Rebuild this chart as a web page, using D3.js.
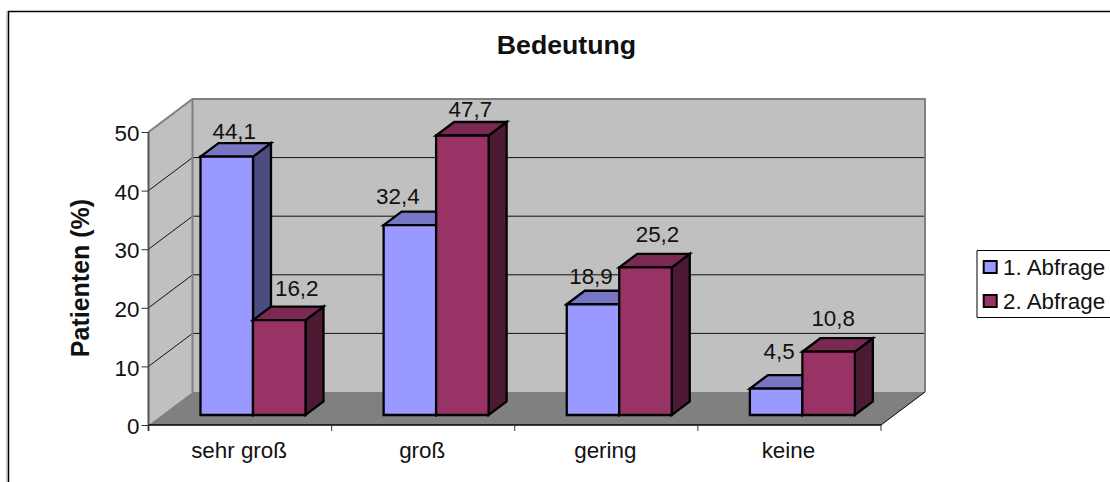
<!DOCTYPE html>
<html><head><meta charset="utf-8">
<script src="https://cdn.jsdelivr.net/npm/d3@7"></script>
<style>html,body{margin:0;padding:0;background:#fff;overflow:hidden}svg{display:block}text{font-family:"Liberation Sans",Arial,sans-serif;fill:#111}</style>
</head><body><svg id="c" width="1110" height="482"></svg>
<script>
const categories = ["sehr groß","groß","gering","keine"];
const seriesNames = ["1. Abfrage","2. Abfrage"];
const series1 = [44.1,32.4,18.9,4.5];
const series2 = [16.2,47.7,25.2,10.8];
const yTicks = [0,10,20,30,40,50];
// hand-placed label offsets of the original, relative to each bar's centre and top
const labelShift1 = [[7.5,-17.8],[-12,-21.2],[-2,-20.2],[3,-29.2]];
const labelShift2 = [[17.5,-24.2],[8,-18.7],[12,-25.2],[4.6,-26.2]];
const fmt = v => String(v).replace(".",",");
const FS = "22.4px";
const svg = d3.select("#c");
// frame
svg.append("path").attr("d","M8.5,482V11.5H1110").attr("fill","none").attr("stroke","#000").attr("stroke-width",1.5);
svg.append("path").attr("d","M7,482V11").attr("fill","none").attr("stroke","#999").attr("stroke-width",1);
const x = d3.scaleBand().domain(categories).range([148.5,881]);
const y = d3.scaleLinear().domain([0,50]).range([425,132]);
const depth = {dx:44,dy:-33}, front = {dx:13.2,dy:-10}, barD = {dx:18,dy:-13.5};
const [x0,x1] = x.range();
const line = d3.line();
// walls
const B = y(0), T = y(50);
svg.append("path").attr("d",line([[x0,T],[x0+depth.dx,T+depth.dy],[x0+depth.dx,B+depth.dy],[x0,B]])+"Z").attr("fill","#c0c0c0");
svg.append("rect").attr("x",x0+depth.dx).attr("y",T+depth.dy).attr("width",x1-x0).attr("height",B-T).attr("fill","#c0c0c0");
svg.append("path").attr("d",line([[x0,B],[x0+depth.dx,B+depth.dy],[x1+depth.dx,B+depth.dy],[x1,B]])+"Z").attr("fill","#808080");
// grid
yTicks.slice(1,-1).forEach(t=>{
  svg.append("path").attr("d",line([[x0,y(t)],[x0+depth.dx,y(t)+depth.dy],[x1+depth.dx,y(t)+depth.dy]])).attr("fill","none").attr("stroke","#111").attr("stroke-width",1);
});
// wall edges
svg.append("path").attr("d",line([[x0,T],[x0+depth.dx,T+depth.dy],[x1+depth.dx,T+depth.dy],[x1+depth.dx,B+depth.dy]])).attr("fill","none").attr("stroke","#808080").attr("stroke-width",2);
svg.append("path").attr("d",line([[x0+depth.dx,T+depth.dy],[x0+depth.dx,B+depth.dy]])).attr("fill","none").attr("stroke","#808080").attr("stroke-width",2);
svg.append("path").attr("d",line([[x1,B],[x1+depth.dx,B+depth.dy]])).attr("fill","none").attr("stroke","#000").attr("stroke-width",1);
// axes
const axY = svg.append("g").attr("transform",`translate(${x0},0)`).call(d3.axisLeft(y).tickValues(yTicks).tickSize(7).tickPadding(2).tickFormat(d3.format("d")));
axY.selectAll("text").style("font-size",FS).attr("dy","0.39em");
axY.select(".domain").attr("d",`M0,${T}V${B+6}`).attr("stroke","#555").attr("stroke-width",2);
axY.selectAll("line").attr("stroke","#333");
const axX = svg.append("g").attr("transform",`translate(0,${B})`);
axX.append("path").attr("d",`M${x0},0H${x1}`).attr("stroke","#000").attr("stroke-width",1.5);
categories.concat(["end"]).forEach((c,i)=>{
  const px = i<categories.length ? x(c) : x1;
  axX.append("line").attr("x1",px).attr("x2",px).attr("y1",0).attr("y2",6).attr("stroke","#333");
});
axX.selectAll("text.t").data(categories).join("text").attr("class","t")
  .attr("x",d=>x(d)+x.bandwidth()/2-1).attr("y",33).attr("text-anchor","middle").style("font-size",FS).text(d=>d);
// bars
const inner = d3.scaleBand().domain([0,1]).range([52,157]);
const colors = [{f:"#9999ff",t:"#7676c4",s:"#4c4c80"},{f:"#993366",t:"#7a2952",s:"#4d1a33"}];
function bar(cat,si,v){
  const c = colors[si];
  const l = x(cat)+inner(si), w = inner.bandwidth();
  const base = y(0)+front.dy, top = base-(y(0)-y(v));
  const g = svg.append("g").attr("stroke","#000").attr("stroke-width",2.3);
  const app = (pts,fill)=>g.append("path").attr("d",line(pts)+"Z").attr("fill",fill);
  app([[l+w,top],[l+w+barD.dx,top+barD.dy],[l+w+barD.dx,base+barD.dy],[l+w,base]],c.s);
  app([[l,top],[l+barD.dx,top+barD.dy],[l+w+barD.dx,top+barD.dy],[l+w,top]],c.t);
  app([[l,top],[l+w,top],[l+w,base],[l,base]],c.f);
}
categories.forEach((cat,i)=>{
  bar(cat,0,series1[i]);
  bar(cat,1,series2[i]);
});
categories.forEach((cat,i)=>{
  [[series1[i],labelShift1[i]],[series2[i],labelShift2[i]]].forEach(([v,s],si)=>{
    const l = x(cat)+inner(si), w = inner.bandwidth();
    const top = y(0)+front.dy-(y(0)-y(v));
    svg.append("text").attr("x",l+w/2+s[0]).attr("y",top+s[1]).attr("text-anchor","middle").style("font-size",FS).text(fmt(v));
  });
});
// titles
svg.append("text").attr("x",566.5).attr("y",53.5).attr("text-anchor","middle").style("font-size","26.7px").style("font-weight","bold").text("Bedeutung");
svg.append("text").attr("transform","translate(88.5,278) rotate(-90)").attr("text-anchor","middle").style("font-size","25px").style("font-weight","bold").text("Patienten (%)");
// legend
const lg = svg.append("g");
lg.append("path").attr("d","M1110,250.5H977V317.5H1110").attr("fill","#fff").attr("stroke","#000").attr("stroke-width",1);
seriesNames.forEach((n,i)=>{
  const yy = 261+i*34;
  lg.append("rect").attr("x",983.7).attr("y",yy).attr("width",13).attr("height",12).attr("fill",colors[i].f).attr("stroke","#000").attr("stroke-width",2);
  lg.append("text").attr("x",1003).attr("y",yy+14).style("font-size",FS).text(n);
});
</script></body></html>
